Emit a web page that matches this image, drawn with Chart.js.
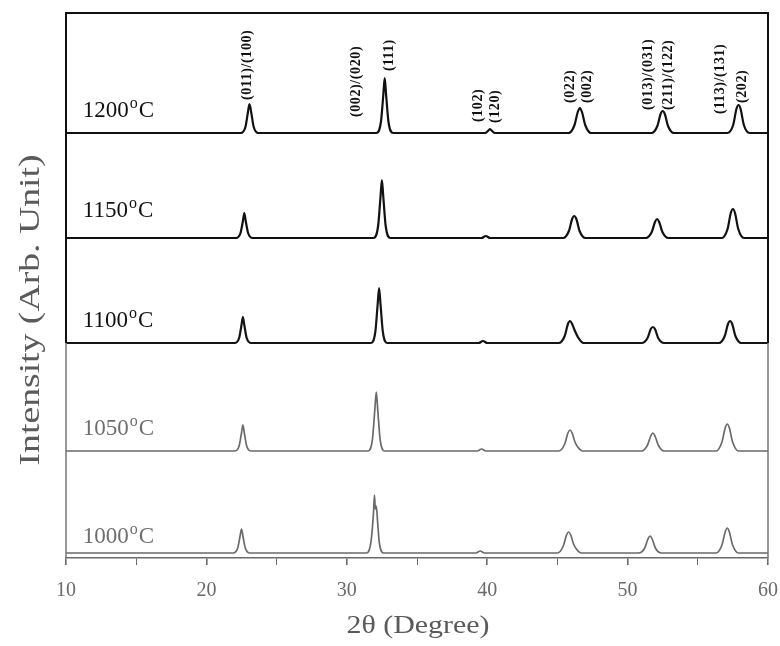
<!DOCTYPE html>
<html>
<head>
<meta charset="utf-8">
<script src="https://cdn.jsdelivr.net/npm/chart.js@4.4.1/dist/chart.umd.min.js"></script>
<style>
    html, body { margin: 0; padding: 0; background: #fff; }
</style>
</head>
<body>
<canvas id="xrdChart" width="780" height="646"></canvas>
<script>
// calcination temperatures, top trace first
const A_temperatures = ["1200", "1150", "1100", "1050", "1000"];
// vertical stacking offset of each trace (arb. unit)
const A_offsets = [425, 320, 215, 107, 5];

// [2theta, intensity above baseline]
const A_pattern1200 = [[10,0],[22.45,0],[22.78,6],[22.95,20],[23.07,29],[23.2,20],[23.37,6],[23.7,0],
    [32.1,0],[32.43,11],[32.6,38],[32.7,55],[32.8,38],[32.97,11],[33.3,0],
    [39.85,0],[40.05,2],[40.2,4],[40.35,2],[40.55,0],
    [45.8,0],[46.22,8],[46.45,21],[46.6,25],[46.75,21],[46.98,8],[47.4,0],
    [51.7,0],[52.12,7],[52.35,19],[52.5,22],[52.65,19],[52.88,7],[53.3,0],
    [57.1,0],[57.52,8],[57.75,24],[57.9,28],[58.05,24],[58.28,8],[58.7,0],
    [60,0]];
const A_pattern1150 = [[10,0],[22.1,0],[22.43,5],[22.6,17],[22.7,25],[22.8,17],[22.97,5],[23.3,0],
    [31.9,0],[32.23,12],[32.4,41],[32.5,58],[32.6,41],[32.77,12],[33.1,0],
    [39.6,0],[39.9,2],[40.2,0],
    [45.4,0],[45.82,7],[46.05,19],[46.2,22],[46.35,19],[46.58,7],[47.0,0],
    [51.3,0],[51.72,6],[51.95,16],[52.1,19],[52.25,16],[52.48,6],[52.9,0],
    [56.7,0],[57.12,9],[57.35,25],[57.5,29],[57.65,25],[57.88,9],[58.3,0],
    [60,0]];
const A_pattern1100 = [[10,0],[22.0,0],[22.33,5],[22.5,18],[22.6,26],[22.7,18],[22.87,5],[23.2,0],
    [31.7,0],[32.03,11],[32.2,39],[32.3,55],[32.4,39],[32.57,11],[32.9,0],
    [39.4,0],[39.7,2],[40.0,0],
    [45.1,0],[45.52,7],[45.75,19],[45.9,22],[46.05,19],[46.25,12],[46.5,5],[46.85,0],
    [51.0,0],[51.42,5],[51.65,14],[51.8,16],[51.95,14],[52.18,5],[52.6,0],
    [56.5,0],[56.92,7],[57.15,19],[57.3,22],[57.45,19],[57.68,7],[58.1,0],
    [60,0]];
const A_pattern1050 = [[10,0],[22.0,0],[22.33,5],[22.5,18],[22.6,26],[22.7,18],[22.87,5],[23.2,0],
    [31.5,0],[31.83,12],[32.0,42],[32.1,59],[32.2,42],[32.37,12],[32.7,0],
    [39.3,0],[39.6,2],[39.9,0],
    [45.1,0],[45.52,7],[45.75,18],[45.9,21],[46.05,18],[46.25,9],[46.45,4],[46.8,0],
    [51.0,0],[51.42,6],[51.65,15],[51.8,18],[51.95,15],[52.18,6],[52.6,0],
    [56.3,0],[56.72,9],[56.95,23],[57.1,27],[57.25,23],[57.48,9],[57.9,0],
    [60,0]];
const A_pattern1000 = [[10,0],[21.9,0],[22.23,5],[22.4,17],[22.5,24],[22.6,17],[22.77,5],[23.1,0],
    [31.4,0],[31.73,12],[31.9,40],[31.97,58],[32.03,44],[32.1,47],[32.2,30],[32.32,10],[32.65,0],
    [39.2,0],[39.5,2],[39.8,0],
    [45.0,0],[45.42,7],[45.65,18],[45.8,21],[45.95,18],[46.15,9],[46.35,4],[46.7,0],
    [50.8,0],[51.22,5],[51.45,14],[51.6,17],[51.75,14],[51.98,5],[52.4,0],
    [56.3,0],[56.72,8],[56.95,21],[57.1,25],[57.25,21],[57.48,8],[57.9,0],
    [60,0]];
const A_patterns = [A_pattern1200, A_pattern1150, A_pattern1100, A_pattern1050, A_pattern1000];

// hkl labels of the 1200 trace: text, 2theta, bottom end (arb. unit)
const A_hklLabels = ["(011)/(100)", "(002)/(020)", "(111)", "(102)", "(120)", "(022)", "(002)",
    "(013)/(031)", "(211)/(122)", "(113)/(131)", "(202)"];
const A_hklAngles = [22.95, 30.7, 33.0, 39.35, 40.6, 45.95, 47.15, 51.45, 52.9, 56.6, 58.2];
const A_hklBottoms = [458, 441, 487, 436, 435, 455, 455, 448, 448, 444, 455];

const A_lineColors = ["#111111", "#111111", "#141414", "#6a6a6a", "#6a6a6a"];
const A_lineWidths = [2.2, 2.2, 2.2, 1.7, 1.7];
const A_labelLift = [16, 21, 16, 16, 10];

function drawTempLabel(ctx, S_temp, I_x, I_y, S_color) {
    ctx.fillStyle = S_color;
    ctx.textBaseline = "alphabetic";
    ctx.textAlign = "left";
    ctx.font = '23px "Liberation Serif"';
    ctx.fillText(S_temp, I_x, I_y);
    let I_w = ctx.measureText(S_temp).width;
    ctx.font = '16px "Liberation Serif"';
    ctx.fillText("o", I_x + I_w + 1, I_y - 9);
    let I_w2 = ctx.measureText("o").width;
    ctx.font = '23px "Liberation Serif"';
    ctx.fillText("C", I_x + I_w + I_w2 + 2, I_y);
}

const decorPlugin = {
    id: "xrdDecor",
    afterDatasetsDraw(chart) {
        const ctx = chart.ctx;
        const a = chart.chartArea;
        const xs = chart.scales.x;
        const ys = chart.scales.y;
        const I_split = ys.getPixelForValue(A_offsets[2]);

        ctx.save();
        // frame: dark upper part, faded lower part like the scan
        ctx.strokeStyle = "#111";
        ctx.lineWidth = 2;
        ctx.beginPath();
        ctx.moveTo(a.left, I_split);
        ctx.lineTo(a.left, a.top);
        ctx.lineTo(a.right, a.top);
        ctx.lineTo(a.right, I_split);
        ctx.stroke();
        ctx.strokeStyle = "#777";
        ctx.lineWidth = 1.5;
        ctx.beginPath();
        ctx.moveTo(a.left, I_split);
        ctx.lineTo(a.left, a.bottom);
        ctx.moveTo(a.right, I_split);
        ctx.lineTo(a.right, a.bottom);
        ctx.stroke();

        // temperature labels
        A_temperatures.forEach((S_t, i) => {
            drawTempLabel(ctx, S_t, xs.getPixelForValue(11.2),
                ys.getPixelForValue(A_offsets[i] + A_labelLift[i]), i < 3 ? "#111" : "#6e6e6e");
        });

        // hkl labels, rotated
        ctx.fillStyle = "#111";
        ctx.font = 'bold 14px "Liberation Serif"';
        ctx.letterSpacing = "0.6px";
        ctx.textBaseline = "middle";
        ctx.textAlign = "left";
        A_hklLabels.forEach((S_l, i) => {
            ctx.save();
            ctx.translate(xs.getPixelForValue(A_hklAngles[i]), ys.getPixelForValue(A_hklBottoms[i]));
            ctx.rotate(-Math.PI / 2);
            ctx.fillText(S_l, 0, 0);
            ctx.restore();
        });
        ctx.letterSpacing = "0px";

        // axis titles (scan is slightly stretched along the text)
        ctx.fillStyle = "#5a5a5a";
        ctx.textAlign = "center";
        ctx.textBaseline = "middle";
        ctx.save();
        ctx.translate(418, 626);
        ctx.scale(1.15, 1);
        ctx.font = '26px "Liberation Serif"';
        ctx.fillText("2\u03b8 (Degree)", 0, 0);
        ctx.restore();
        ctx.save();
        ctx.translate(31, 310);
        ctx.rotate(-Math.PI / 2);
        ctx.scale(1.3, 1);
        ctx.font = '29px "Liberation Serif"';
        ctx.fillText("Intensity (Arb. Unit)", 0, 0);
        ctx.restore();
        ctx.restore();
    }
};

const xrdChart = new Chart("xrdChart", {
    type: "scatter",
    data: {
        datasets: A_temperatures.map((S_t, i) => ({
            label: S_t + " °C",
            data: A_patterns[i].map(p => ({ x: p[0], y: p[1] + A_offsets[i] })),
            showLine: true,
            borderColor: A_lineColors[i],
            borderWidth: A_lineWidths[i],
            pointRadius: 0,
            cubicInterpolationMode: "monotone",
            fill: false
        }))
    },
    options: {
        responsive: false,
        animation: false,
        layout: { padding: { left: 66, right: 12, top: 13, bottom: 43 } },
        plugins: {
            legend: { display: false },
            tooltip: { enabled: false }
        },
        scales: {
            x: {
                type: "linear",
                min: 10,
                max: 60,
                afterFit: s => {
                    s.height = 45;
                    s.paddingLeft = 0;
                    s.paddingRight = 0;
                },
                ticks: {
                    stepSize: 5,
                    autoSkip: false,
                    maxRotation: 0,
                    padding: 14,
                    color: "#6a6a6a",
                    font: { family: "Liberation Serif", size: 20 },
                    callback: v => (v % 10 === 0 ? v : "")
                },
                grid: {
                    drawOnChartArea: false,
                    drawTicks: true,
                    tickLength: 7,
                    color: "#6a6a6a",
                    lineWidth: c => (c.tick && c.tick.value % 10 === 0 ? 1.6 : 1)
                },
                border: { display: true, color: "#6a6a6a", width: 1.5 }
            },
            y: {
                display: false,
                min: 0,
                max: 545
            }
        }
    },
    plugins: [decorPlugin]
});
</script>
</body>
</html>
